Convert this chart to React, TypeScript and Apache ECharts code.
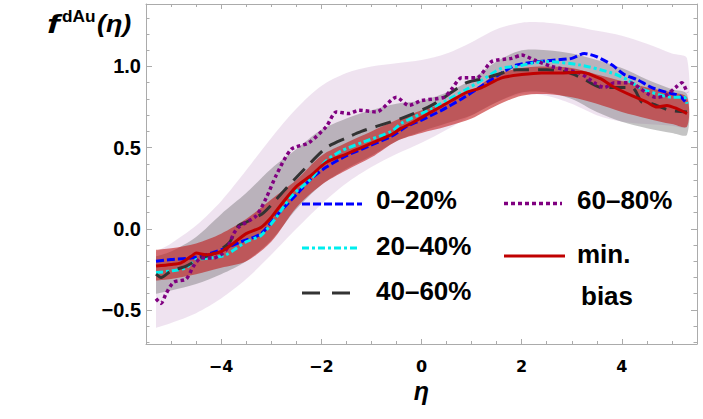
import React, { useEffect, useRef } from "react";
import * as echarts from "echarts";

// η grid shared by the three uncertainty bands
const bandEta = [-5.3, -5.0, -4.5, -4.0, -3.5, -3.0, -2.5, -2.0, -1.5, -1.0, -0.5, 0.0, 0.5, 1.0, 1.5, 2.0, 2.5, 3.0, 3.5, 4.0, 4.5, 5.0, 5.3];

// widest (lavender) band
const wideBandLo = [-0.61, -0.58, -0.52, -0.43, -0.31, -0.16, 0.0, 0.15, 0.28, 0.38, 0.46, 0.53, 0.61, 0.70, 0.78, 0.83, 0.82, 0.77, 0.70, 0.66, 0.645, 0.635, 0.63];
const wideBandHi = [-0.14, -0.09, 0.02, 0.17, 0.36, 0.56, 0.74, 0.88, 0.96, 1.0, 1.02, 1.04, 1.08, 1.15, 1.23, 1.27, 1.27, 1.25, 1.22, 1.19, 1.14, 1.08, 1.05];

// gray band
const grayBandLo = [-0.40, -0.38, -0.34, -0.28, -0.20, -0.07, 0.12, 0.27, 0.37, 0.45, 0.54, 0.60, 0.65, 0.70, 0.78, 0.84, 0.84, 0.80, 0.72, 0.66, 0.62, 0.59, 0.58];
const grayBandHi = [-0.17, -0.14, -0.05, 0.09, 0.22, 0.37, 0.49, 0.61, 0.68, 0.73, 0.77, 0.79, 0.84, 0.92, 1.03, 1.10, 1.10, 1.08, 1.04, 0.99, 0.92, 0.86, 0.83];

// red (min. bias) band
const redBandLo = [-0.32, -0.31, -0.28, -0.24, -0.20, -0.08, 0.13, 0.27, 0.36, 0.44, 0.54, 0.59, 0.63, 0.68, 0.76, 0.82, 0.83, 0.81, 0.77, 0.72, 0.68, 0.645, 0.63];
const redBandHi = [-0.13, -0.12, -0.09, -0.03, 0.06, 0.18, 0.30, 0.45, 0.53, 0.60, 0.67, 0.73, 0.78, 0.85, 0.95, 0.99, 1.0, 0.99, 0.95, 0.91, 0.87, 0.84, 0.81];

// 0–20%
const eta0020 = [-5.3, -5.0, -4.6, -4.3, -4.0, -3.6, -3.2, -2.9, -2.5, -2.2, -1.9, -1.5, -1.2, -0.6, -0.3, 0.0, 0.4, 0.8, 1.2, 1.6, 1.9, 2.5, 3.0, 3.25, 3.5, 3.8, 4.05, 4.3, 4.6, 4.9, 5.15, 5.3];
const f0020 = [-0.20, -0.19, -0.18, -0.16, -0.13, -0.08, -0.03, 0.08, 0.21, 0.31, 0.38, 0.45, 0.49, 0.57, 0.63, 0.67, 0.73, 0.80, 0.88, 0.96, 1.01, 1.035, 1.05, 1.08, 1.06, 1.01, 0.95, 0.92, 0.87, 0.84, 0.82, 0.77];

// 20–40%
const eta2040 = [-5.3, -5.0, -4.7, -4.5, -4.2, -3.9, -3.5, -3.2, -2.9, -2.6, -2.2, -1.9, -1.6, -1.2, -0.6, -0.4, 0.2, 0.9, 1.2, 1.6, 1.9, 2.2, 2.5, 3.15, 3.8, 4.1, 4.35, 4.5, 5.0, 5.25, 5.3];
const f2040 = [-0.27, -0.26, -0.24, -0.19, -0.18, -0.16, -0.08, -0.04, 0.07, 0.20, 0.31, 0.42, 0.48, 0.53, 0.60, 0.65, 0.74, 0.86, 0.915, 0.99, 1.0, 1.02, 1.03, 1.01, 0.96, 0.92, 0.87, 0.85, 0.81, 0.81, 0.77];

// 40–60%
const eta4060 = [-5.3, -5.2, -5.0, -4.7, -4.4, -4.2, -3.85, -3.65, -3.5, -3.15, -2.7, -2.3, -1.9, -1.5, -1.2, -0.6, -0.4, 0.2, 0.9, 1.3, 1.9, 2.5, 2.9, 3.2, 3.6, 4.2, 4.4, 4.6, 4.95, 5.3];
const f4060 = [-0.28, -0.30, -0.26, -0.23, -0.18, -0.16, -0.09, 0.02, 0.04, 0.10, 0.25, 0.38, 0.50, 0.56, 0.60, 0.66, 0.68, 0.76, 0.90, 0.93, 0.98, 0.98, 0.965, 0.93, 0.87, 0.87, 0.78, 0.77, 0.73, 0.72];

// 60–80%
const eta6080 = [-5.3, -5.2, -5.1, -4.95, -4.7, -4.55, -4.4, -4.15, -3.9, -3.75, -3.65, -3.3, -3.1, -2.9, -2.6, -2.25, -1.9, -1.7, -1.45, -1.25, -0.9, -0.5, -0.25, 0.0, 0.45, 0.6, 0.8, 1.1, 1.4, 1.8, 2.0, 2.25, 2.6, 3.15, 3.45, 3.65, 3.85, 4.15, 4.5, 4.67, 4.87, 5.07, 5.2, 5.3];
const f6080 = [-0.43, -0.46, -0.40, -0.33, -0.31, -0.23, -0.18, -0.18, -0.13, -0.03, 0.01, 0.08, 0.19, 0.33, 0.49, 0.53, 0.63, 0.72, 0.71, 0.73, 0.72, 0.81, 0.76, 0.79, 0.81, 0.86, 0.93, 0.93, 1.03, 1.05, 1.07, 1.04, 1.0, 0.96, 0.90, 0.87, 0.90, 0.90, 0.835, 0.81, 0.82, 0.87, 0.90, 0.84];

// min. bias
const etaMinBias = [-5.3, -5.0, -4.8, -4.6, -4.5, -4.3, -4.0, -3.8, -3.5, -3.2, -3.0, -2.8, -2.5, -2.2, -1.9, -1.5, -1.2, -0.9, -0.6, -0.4, -0.2, 0.2, 0.6, 0.9, 1.2, 1.6, 2.0, 2.4, 2.8, 3.2, 3.6, 3.8, 4.2, 4.5, 4.7, 4.9, 5.1, 5.3];
const fMinBias = [-0.23, -0.22, -0.21, -0.17, -0.15, -0.16, -0.14, -0.10, -0.03, 0.01, 0.07, 0.15, 0.26, 0.33, 0.41, 0.46, 0.50, 0.54, 0.58, 0.62, 0.65, 0.72, 0.79, 0.84, 0.87, 0.93, 0.95, 0.96, 0.96, 0.965, 0.92, 0.88, 0.82, 0.78, 0.75, 0.76, 0.74, 0.71];

// axis ticks
const xMajorTicks = [-4, -2, 0, 2, 4];
const xMinorTicks = [-5, -4.5, -3.5, -3, -2.5, -1.5, -1, -0.5, 0.5, 1, 1.5, 2.5, 3, 3.5, 4.5, 5];
const yMajorTicks = [-0.5, 0, 0.5, 1.0];
const yMinorTicks = [-0.7, -0.6, -0.4, -0.3, -0.2, -0.1, 0.1, 0.2, 0.3, 0.4, 0.6, 0.7, 0.8, 0.9, 1.1, 1.2, 1.3];

const legendLabels = ["0–20%", "20–40%", "40–60%", "60–80%", "min.", "bias"];

const SANS = "'Liberation Sans', Arial, sans-serif";
const FRAME = "#ababab";

const pairs = (xs: number[], ys: number[]) => xs.map((x, i) => [x, ys[i]]);

// A filled band between lo and hi, drawn as one polygon in data coordinates.
function bandSeries(name: string, lo: number[], hi: number[], color: string) {
  return {
    type: "custom",
    name,
    silent: true,
    clip: true,
    data: bandEta.map((x, i) => [x, lo[i], hi[i]]),
    encode: { x: 0, y: [1, 2] },
    renderItem: (params: any, api: any) => {
      if (params.dataIndex !== 0) return null;
      const upper = bandEta.map((x, i) => api.coord([x, hi[i]]));
      const lower = bandEta.map((x, i) => api.coord([x, lo[i]])).reverse();
      return {
        type: "group",
        children: [
          {
            type: "polyline",
            shape: { points: upper.concat(lower), smooth: 0.3 },
            style: { fill: color, stroke: "none" },
          },
        ],
      };
    },
  };
}

function curve(name: string, xs: number[], ys: number[], color: string, dash: any, width = 3) {
  return {
    type: "line",
    name,
    data: pairs(xs, ys),
    symbol: "none",
    smooth: 0.25,
    silent: true,
    lineStyle: { color, width, type: dash, cap: "butt", join: "round" },
  };
}

function minusFmt(v: number, digits: number) {
  const s = digits > 0 ? Math.abs(v).toFixed(digits) : String(Math.abs(v));
  return (v < 0 ? "\u2212" : "") + s;
}

function xAxisDef(position: string, ticks: number[], len: number, showLine: boolean, labels: boolean) {
  return {
    type: "value",
    position,
    min: -5.5,
    max: 5.5,
    splitLine: { show: false },
    axisLine: { show: showLine, onZero: false, lineStyle: { color: FRAME, width: 1 } },
    axisTick: { show: true, inside: true, length: len, customValues: ticks, lineStyle: { color: FRAME, width: 1 } },
    axisLabel: labels
      ? {
          show: true,
          customValues: ticks,
          margin: 14,
          color: "#000",
          fontFamily: "'DejaVu Sans', sans-serif",
          fontWeight: "bold",
          fontSize: 16,
          formatter: (v: number) => minusFmt(v, 0),
        }
      : { show: false },
  };
}

function yAxisDef(position: string, ticks: number[], len: number, showLine: boolean, labels: boolean) {
  return {
    type: "value",
    position,
    min: -0.71,
    max: 1.385,
    splitLine: { show: false },
    axisLine: { show: showLine, onZero: false, lineStyle: { color: FRAME, width: 1 } },
    axisTick: { show: true, inside: true, length: len, customValues: ticks, lineStyle: { color: FRAME, width: 1 } },
    axisLabel: labels
      ? {
          show: true,
          customValues: ticks,
          margin: 5,
          color: "#000",
          fontFamily: SANS,
          fontWeight: "bold",
          fontSize: 20,
          formatter: (v: number) => minusFmt(v, 1),
        }
      : { show: false },
  };
}

function legendLine(x1: number, x2: number, y: number, color: string, dash: any, width = 3) {
  return {
    type: "line",
    shape: { x1, y1: y, x2, y2: y },
    style: { stroke: color, lineWidth: width, lineDash: dash, lineCap: "butt" },
    z: 100,
  };
}

function legendText(text: string, x: number, y: number) {
  return {
    type: "text",
    x,
    y,
    style: {
      text,
      fill: "#000",
      fontFamily: SANS,
      fontWeight: "bold",
      fontSize: 26,
      verticalAlign: "middle",
    },
    z: 100,
  };
}

export default function App() {
  const ref = useRef<HTMLDivElement>(null);

  useEffect(() => {
    if (!ref.current) return;
    const chart = echarts.init(ref.current, undefined, { renderer: "svg" });

    const option: any = {
      animation: false,
      backgroundColor: "#ffffff",
      grid: { left: 146, right: 6, top: 4, bottom: 75, containLabel: false },
      xAxis: [
        {
          ...xAxisDef("bottom", xMajorTicks, 5, true, true),
          name: "η",
          nameLocation: "middle",
          nameGap: 34,
          nameTextStyle: { color: "#000", fontFamily: SANS, fontWeight: "bold", fontStyle: "italic", fontSize: 25 },
        },
        xAxisDef("bottom", xMinorTicks, 3, false, false),
        xAxisDef("top", xMajorTicks, 5, true, false),
        xAxisDef("top", xMinorTicks, 3, false, false),
      ],
      yAxis: [
        yAxisDef("left", yMajorTicks, 6, true, true),
        yAxisDef("left", yMinorTicks, 3.5, false, false),
        yAxisDef("right", yMajorTicks, 6, true, false),
        yAxisDef("right", yMinorTicks, 3.5, false, false),
      ],
      series: [
        bandSeries("wide band", wideBandLo, wideBandHi, "rgba(128, 40, 140, 0.13)"),
        bandSeries("gray band", grayBandLo, grayBandHi, "rgba(100, 100, 100, 0.38)"),
        bandSeries("min. bias band", redBandLo, redBandHi, "rgba(192, 20, 20, 0.58)"),
        curve("0–20%", eta0020, f0020, "#0000ff", [8, 3]),
        curve("20–40%", eta2040, f2040, "#00eeee", [7, 3, 3, 3]),
        curve("40–60%", eta4060, f4060, "#333333", [16, 9]),
        curve("60–80%", eta6080, f6080, "#800080", [3.5, 3], 3.5),
        curve("min. bias", etaMinBias, fMinBias, "#c00000", "solid"),
      ],
      graphic: [
        // axis title f^dAu(η)
        {
          type: "text",
          x: 47,
          y: 24,
          scaleX: 1.5,
          style: { text: "f", fill: "#000", fontFamily: SANS, fontWeight: "bold", fontStyle: "italic", fontSize: 25, verticalAlign: "middle" },
        },
        {
          type: "text",
          x: 62,
          y: 16.5,
          scaleX: 1.08,
          style: { text: "dAu", fill: "#000", fontFamily: SANS, fontWeight: "bold", fontSize: 16, verticalAlign: "middle" },
        },
        {
          type: "text",
          x: 97,
          y: 24,
          scaleX: 1.12,
          style: { text: "(η)", fill: "#000", fontFamily: SANS, fontWeight: "bold", fontStyle: "italic", fontSize: 24, verticalAlign: "middle" },
        },
        // legend, left column
        legendLine(302, 362, 204, "#0000ff", [8, 3]),
        legendText(legendLabels[0], 376, 199.5),
        legendLine(302, 360, 248, "#00eeee", [7, 3, 3, 3]),
        legendText(legendLabels[1], 376, 246),
        legendLine(302, 354, 293, "#333333", [18, 12]),
        legendText(legendLabels[2], 376, 290.5),
        // legend, right column
        legendLine(504, 562, 203.5, "#800080", [4, 3], 3.5),
        legendText(legendLabels[3], 577, 199.5),
        legendLine(504, 565, 256, "#c00000", null),
        legendText(legendLabels[4], 577, 254),
        legendText(legendLabels[5], 581, 295.5),
      ],
    };

    chart.setOption(option);
    return () => chart.dispose();
  }, []);

  return (
    <div
      ref={ref}
      style={{ position: "fixed", left: 0, top: 0, width: 703, height: 419, background: "#fff" }}
    />
  );
}
